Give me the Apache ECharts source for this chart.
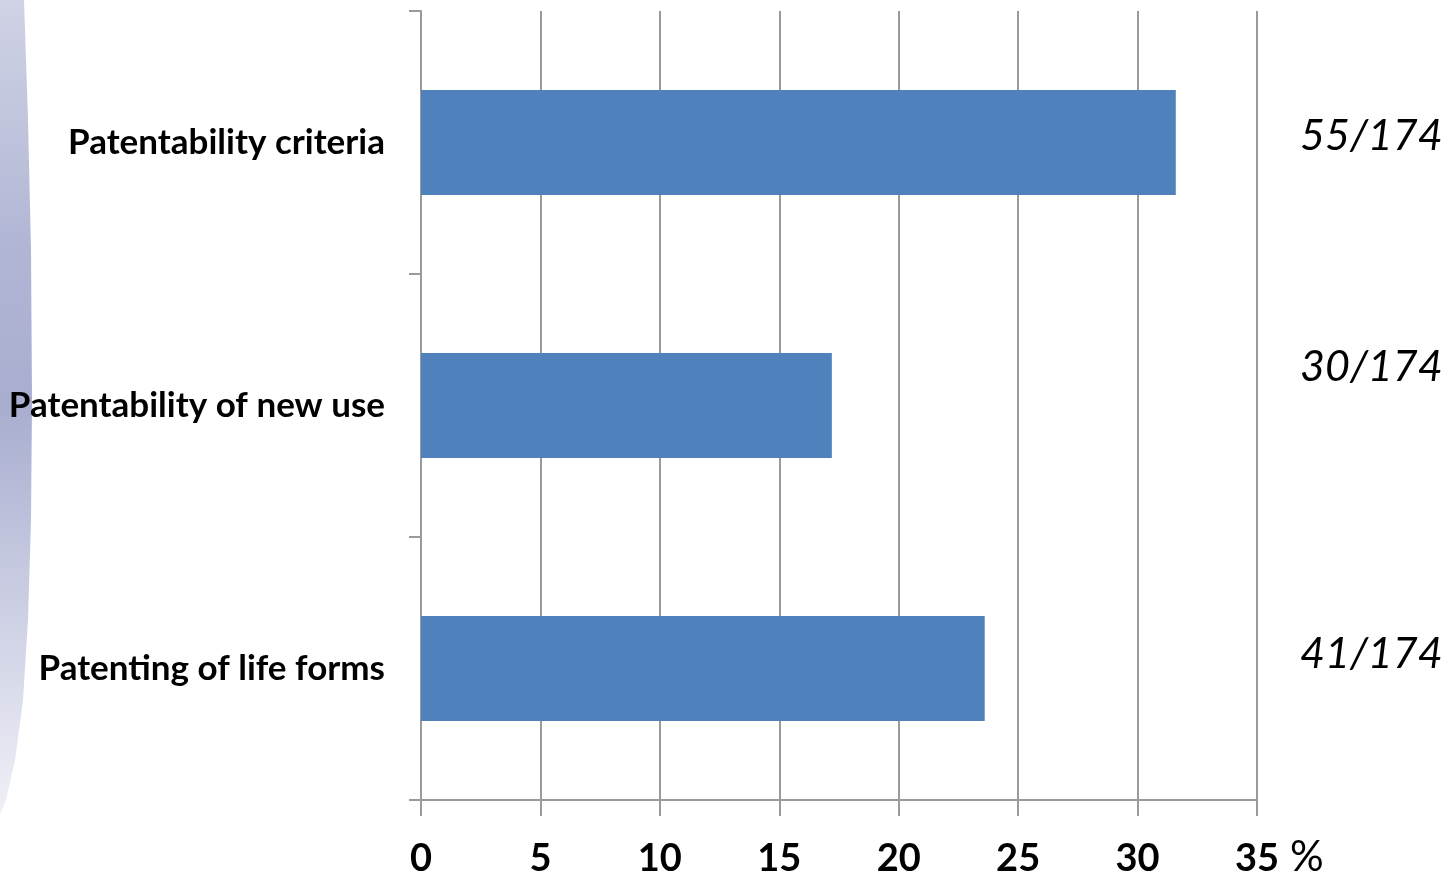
<!DOCTYPE html>
<html>
<head>
<meta charset="utf-8">
<script src="https://cdn.jsdelivr.net/npm/echarts@6/dist/echarts.min.js"></script>
<style>
  html, body { margin: 0; padding: 0; background: #fff; }
  #chart { width: 1452px; height: 878px; }
</style>
</head>
<body>
<div id="chart"></div>
<script>
// categories, bottom to top as ECharts draws them
var categories = ['Patenting of life forms', 'Patentability of new use', 'Patentability criteria'];
var percentValues = [23.6, 17.2, 31.6];
var countLabels = ['41/174', '30/174', '55/174'];
var xTicks = [0, 5, 10, 15, 20, 25, 30, 35];

var chartDom = document.getElementById('chart');
var myChart = echarts.init(chartDom);

var gray = '#9a9a9a';
// small vertical nudges of the right-hand count labels (px, upward)
var countNudge = [14, 38, 6];

var option = {
    backgroundColor: '#ffffff',
    animation: false,
    grid: { left: 421, right: 195, top: 11, bottom: 77 },
    xAxis: {
        type: 'value',
        min: xTicks[0],
        max: xTicks[xTicks.length - 1],
        interval: 5,
        axisLine: { show: true, onZero: false, lineStyle: { color: gray, width: 2 } },
        axisTick: { show: true, length: 16, lineStyle: { color: gray, width: 2 } },
        splitLine: { show: true, lineStyle: { color: gray, width: 2 } },
        axisLabel: {
            margin: 40,
            color: '#000',
            fontFamily: 'Lato, sans-serif',
            fontWeight: 'bold',
            fontSize: 38
        }
    },
    yAxis: [
        {
            type: 'category',
            data: categories,
            axisLine: { show: true, lineStyle: { color: gray, width: 2 } },
            axisTick: { show: true, length: 12, lineStyle: { color: gray, width: 2 } },
            splitLine: { show: false },
            axisLabel: {
                margin: 36,
                color: '#000',
                fontFamily: 'Lato, sans-serif',
                fontWeight: 'bold',
                fontSize: 35
            }
        },
        {
            type: 'category',
            position: 'right',
            data: countLabels,
            axisLine: { show: false },
            axisTick: { show: false },
            axisLabel: {
                margin: 43,
                color: '#000',
                fontFamily: 'Lato, sans-serif',
                fontStyle: 'italic',
                fontSize: 43,
                formatter: function(value, index) {
                    return '{n' + index + '|' + value + '}';
                },
                rich: {
                    n0: { padding: [0, 0, countNudge[0] * 2, 0] },
                    n1: { padding: [0, 0, countNudge[1] * 2, 0] },
                    n2: { padding: [0, 0, countNudge[2] * 2, 0] }
                }
            }
        }
    ],
    series: [
        {
            type: 'bar',
            data: percentValues,
            barCategoryGap: '60%',
            itemStyle: { color: '#4f81bd' }
        }
    ],
    graphic: [
        {
            // decorative slide strip on the left
            type: 'polygon',
            silent: true,
            z: -1,
            shape: {
                points: [[0, 0], [24, 0], [28, 120], [31, 250], [32, 400], [31, 520], [28, 620],
                         [23, 700], [15, 760], [6, 800], [0, 815]]
            },
            style: {
                fill: {
                    type: 'linear', x: 0, y: 0, x2: 0, y2: 1,
                    colorStops: [
                        { offset: 0, color: '#d0d3e5' },
                        { offset: 0.3, color: '#b1b6d5' },
                        { offset: 0.5, color: '#a9aed0' },
                        { offset: 0.75, color: '#cdd0e4' },
                        { offset: 1, color: '#eff0f7' }
                    ]
                }
            }
        },
        {
            type: 'text',
            left: 1290,
            top: 836,
            style: {
                text: '%',
                fill: '#000',
                font: '42px Lato, sans-serif'
            }
        }
    ]
};

myChart.setOption(option);
</script>
</body>
</html>
